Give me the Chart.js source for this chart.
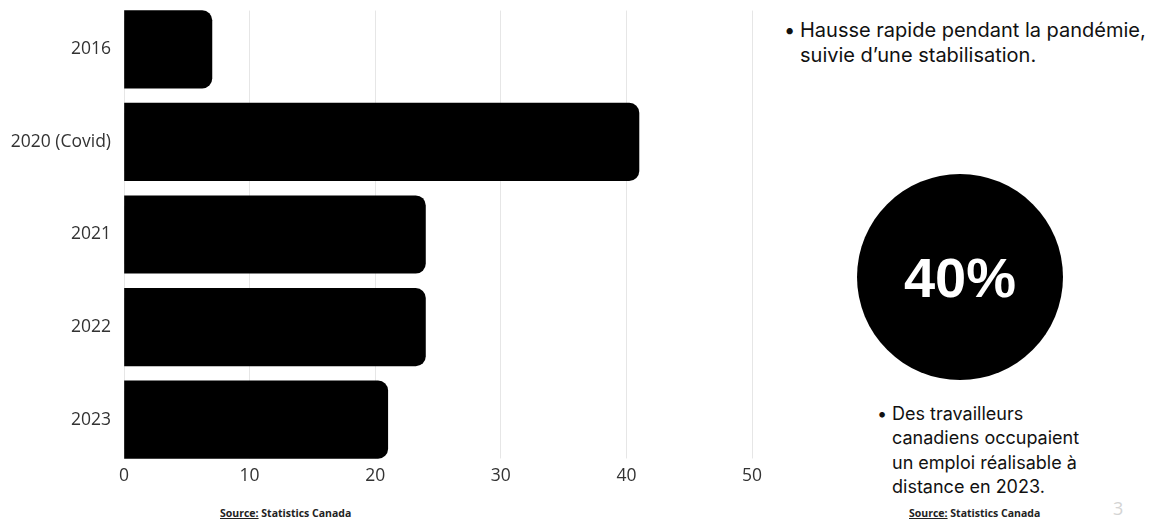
<!DOCTYPE html>
<html lang="fr">
<head>
<meta charset="utf-8">
<script src="https://cdn.jsdelivr.net/npm/chart.js@4.4.1/dist/chart.umd.min.js"></script>
<style>
  html, body { margin: 0; padding: 0; background: #fff; }
  body { width: 1156px; height: 520px; position: relative; overflow: hidden; font-family: Inter, "Liberation Sans", sans-serif; }
  #wrap { position: absolute; left: 0; top: 0; width: 780px; height: 487px; }
  .bullet { position: absolute; color: #111; white-space: nowrap; }
  #b1 { left: 784px; top: 18px; font-size: 20px; line-height: 25px; }
  #b1 p, #b2 p { margin: 0; padding-left: 16px; position: relative; }
  #b1 p::before, #b2 p::before { content: "\2022"; position: absolute; left: 0; top: 0; }
  #b2 { left: 877px; top: 402px; font-size: 18px; line-height: 24.3px; }
  #b2 p { padding-left: 15px; }
  #circle { position: absolute; left: 857px; top: 174px; width: 206px; height: 206px; border-radius: 50%; background: #000;
            display: flex; align-items: center; justify-content: center; color: #fff; font-weight: 700; font-size: 56px;
            font-family: "Liberation Sans", Arial, sans-serif; }
  .src { position: absolute; top: 508px; font-family: "Open Sans", sans-serif; font-weight: 700; font-size: 10.5px; line-height: 1; color: #222; white-space: nowrap; }
  .src u { text-decoration: underline; }
  #page { position: absolute; left: 1113px; top: 496px; font-size: 18px; color: #d4d4d4; font-family: "Open Sans", sans-serif; }
</style>
</head>
<body>
<div id="wrap"><canvas id="c"></canvas></div>
<div id="b1" class="bullet"><p>Hausse rapide pendant la pandémie,<br>suivie d’une stabilisation.</p></div>
<div id="circle">40%</div>
<div id="b2" class="bullet"><p>Des travailleurs<br>canadiens occupaient<br>un emploi réalisable à<br>distance en 2023.</p></div>
<div class="src" style="left:220px;"><u>Source:</u> Statistics Canada</div>
<div class="src" style="left:909px;"><u>Source:</u> Statistics Canada</div>
<div id="page">3</div>
<script>
const categories = ["2016", "2020 (Covid)", "2021", "2022", "2023"];
const values = [7, 41, 24, 24, 21];
const xTicks = [0, 10, 20, 30, 40, 50];

const gridMask = {
  id: 'gridMask',
  beforeDatasetsDraw(chart) {
    const meta = chart.getDatasetMeta(0);
    const els = meta.data;
    if (!els.length) return;
    const a = chart.chartArea, ctx = chart.ctx;
    const first = els[0], last = els[els.length - 1];
    const topEdge = first.y - first.height / 2;
    const botEdge = last.y + last.height / 2;
    ctx.save();
    ctx.fillStyle = '#fff';
    if (topEdge > a.top) ctx.fillRect(a.left - 2, a.top - 2, a.right - a.left + 4, topEdge - a.top + 2);
    if (botEdge < a.bottom) ctx.fillRect(a.left - 2, botEdge, a.right - a.left + 4, a.bottom - botEdge + 2);
    ctx.restore();
  }
};

new Chart(document.getElementById('c'), {
  type: 'bar',
  data: {
    labels: categories,
    datasets: [{
      data: values,
      backgroundColor: '#000',
      borderRadius: 10,
      borderSkipped: 'start',
      barThickness: 77.5
    }]
  },
  options: {
    indexAxis: 'y',
    responsive: true,
    maintainAspectRatio: false,
    animation: false,
    layout: { padding: { top: 3, right: 28, bottom: 0, left: 0 } },
    plugins: { legend: { display: false }, tooltip: { enabled: false } },
    scales: {
      x: {
        min: 0, max: 50,
        afterBuildTicks(s) { s.ticks = xTicks.map(v => ({ value: v })); },
        grid: { color: '#e6e6e6', lineWidth: 1, drawTicks: false },
        border: { display: false },
        ticks: { color: '#333', font: { family: "'Open Sans'", size: 17.5 }, padding: 0 }
      },
      y: {
        afterFit(s) { s.width = 124; s.paddingTop = 0; s.paddingBottom = 0; },
        grid: { display: false, drawTicks: false },
        border: { display: false },
        ticks: { color: '#333', font: { family: "'Open Sans'", size: 17.5 }, padding: 13 }
      }
    }
  },
  plugins: [gridMask]
});
</script>
</body>
</html>
